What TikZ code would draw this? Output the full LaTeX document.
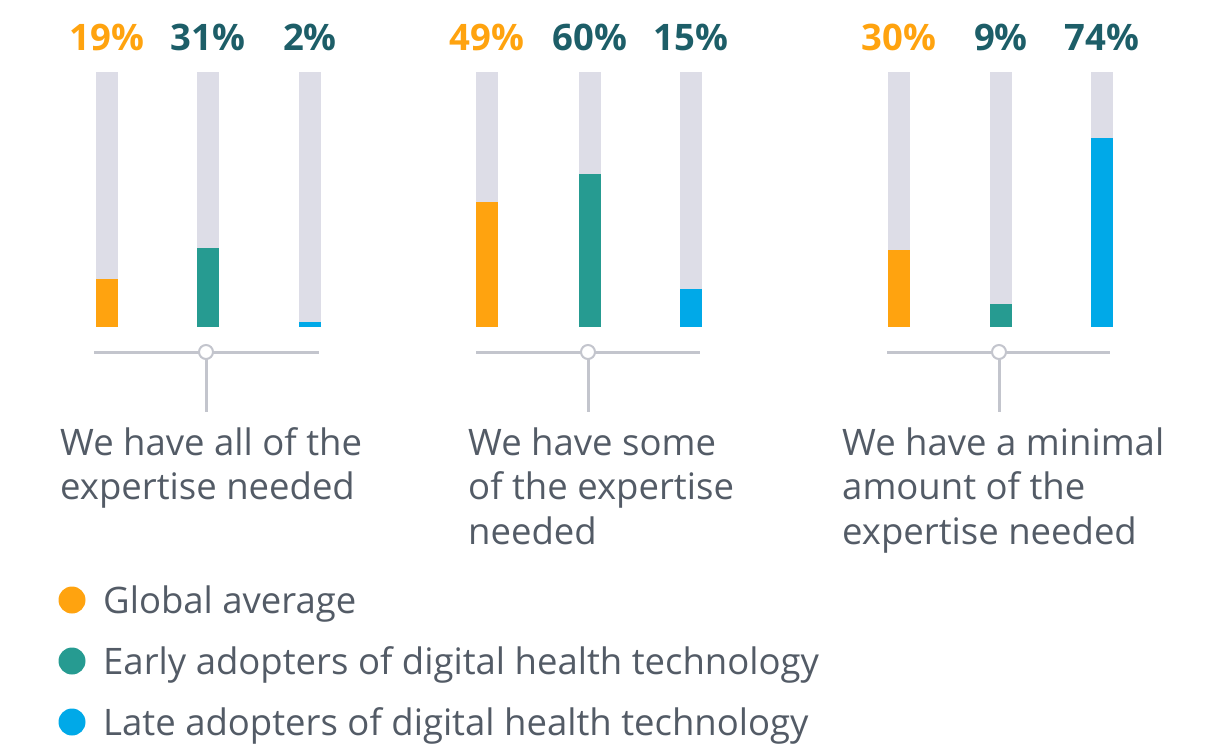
\documentclass[tikz,border=0pt]{standalone}
\usepackage{fontspec}
\setmainfont{Open Sans}
\usetikzlibrary{positioning}
\definecolor{avgorange}{HTML}{FFA30F}
\definecolor{earlyteal}{HTML}{269B91}
\definecolor{lateblue}{HTML}{00A9E8}
\definecolor{barbg}{HTML}{DDDDE7}
\definecolor{axisgray}{HTML}{C3C5CD}
\definecolor{labelgray}{HTML}{535B66}
\definecolor{pctteal}{HTML}{1D5E68}
\tikzset{
	pct/.style={font=\fontsize{36.5}{40}\selectfont\bfseries, anchor=base},
	grouplabel/.style={font=\fontsize{36.5}{44.5}\selectfont, text=labelgray, anchor=base west, align=left, inner sep=0pt},
	legtext/.style={font=\fontsize{36.5}{40}\selectfont, text=labelgray, anchor=base west, inner sep=0pt},
	axisline/.style={draw=axisgray, line width=3pt},
	knob/.style={circle, draw=axisgray, line width=2pt, fill=white, minimum size=14pt, inner sep=0pt},
}
\begin{document}
\begin{tikzpicture}[x=1pt,y=-1pt]
\useasboundingbox (0,0) rectangle (1219,744);
% bar backgrounds and values (bottom at 327, full height 255)
\fill[barbg] (96,72) rectangle (118,327);
\fill[avgorange] (96,278.5) rectangle (118,327);
\fill[barbg] (197,72) rectangle (219,327);
\fill[earlyteal] (197,248) rectangle (219,327);
\fill[barbg] (299,72) rectangle (321,327);
\fill[lateblue] (299,322) rectangle (321,327);

\fill[barbg] (476,72) rectangle (498,327);
\fill[avgorange] (476,202) rectangle (498,327);
\fill[barbg] (579,72) rectangle (601,327);
\fill[earlyteal] (579,174) rectangle (601,327);
\fill[barbg] (680,72) rectangle (702,327);
\fill[lateblue] (680,289) rectangle (702,327);

\fill[barbg] (888,72) rectangle (910,327);
\fill[avgorange] (888,250) rectangle (910,327);
\fill[barbg] (990,72) rectangle (1012,327);
\fill[earlyteal] (990,304) rectangle (1012,327);
\fill[barbg] (1091,72) rectangle (1113,327);
\fill[lateblue] (1091,138) rectangle (1113,327);

% percentages
\node[pct, text=avgorange] (p11) at (107,50) {19\%};
\node[pct, text=pctteal] (p12) at (208,50) {31\%};
\node[pct, text=pctteal] (p13) at (310,50) {2\%};
\node[pct, text=avgorange] (p21) at (487,50) {49\%};
\node[pct, text=pctteal] (p22) at (590,50) {60\%};
\node[pct, text=pctteal] (p23) at (691,50) {15\%};
\node[pct, text=avgorange] (p31) at (899,50) {30\%};
\node[pct, text=pctteal] (p32) at (1001,50) {9\%};
\node[pct, text=pctteal] (p33) at (1102,50) {74\%};

% axes with knobs
\draw[axisline] (94,352) -- (319,352);
\draw[axisline] (206,359) -- (206,412);
\node[knob] (k1) at (206,352) {};
\draw[axisline] (476,352) -- (700,352);
\draw[axisline] (588,359) -- (588,412);
\node[knob] (k2) at (588,352) {};
\draw[axisline] (887,352) -- (1110,352);
\draw[axisline] (999,359) -- (999,412);
\node[knob] (k3) at (999,352) {};

% group labels (placed at the baseline of their last line)
\node[grouplabel] (g1) at (60,499.5) {We have all of the\\expertise needed};
\node[grouplabel] (g2) at (468,544) {We have some\\of the expertise\\needed};
\node[grouplabel] (g3) at (842,544) {We have a minimal\\amount of the\\expertise needed};

% legend
\fill[avgorange] (72,600) circle (13.5);
\node[legtext] (l1) at (103,613) {Global average};
\fill[earlyteal] (72,661) circle (13.5);
\node[legtext] (l2) at (103,674) {Early adopters of digital health technology};
\fill[lateblue] (72,722) circle (13.5);
\node[legtext] (l3) at (103,735) {Late adopters of digital health technology};
\end{tikzpicture}
\end{document}
